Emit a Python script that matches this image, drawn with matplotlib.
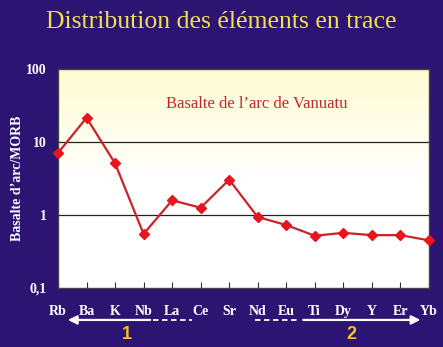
import numpy as np
import matplotlib
matplotlib.use("Agg")
import matplotlib.pyplot as plt
import matplotlib.transforms as mtransforms
from matplotlib.colors import LinearSegmentedColormap

elements = ["Rb", "Ba", "K", "Nb", "La", "Ce", "Sr", "Nd", "Eu", "Ti", "Dy", "Y", "Er", "Yb"]
values = [7.1, 21.5, 5.1, 0.55, 1.59, 1.26, 3.05, 0.94, 0.73, 0.52, 0.57, 0.53, 0.53, 0.45]
ytick_vals = [0.1, 1, 10, 100]
ytick_labels = ["0,1", "1", "10", "100"]

BG = "#2b1472"
SERIF = ["Liberation Serif", "DejaVu Serif"]

fig = plt.figure(figsize=(4.43, 3.47), dpi=100, facecolor=BG)
ax = fig.add_axes([0.131, 0.170, 0.837, 0.631])
x = np.arange(len(elements))

# gradient background
grad = np.linspace(0, 1, 256).reshape(-1, 1)
cmap = LinearSegmentedColormap.from_list("g", ["#ffffff", "#ffffff", "#fffbd2"])
ax.imshow(grad, aspect="auto", cmap=cmap, origin="lower", extent=[0, 1, 0, 1],
          transform=ax.transAxes, zorder=0)

ax.set_yscale("log")
ax.set_ylim(0.1, 100)
ax.set_xlim(0, len(elements) - 1)
for g in [1, 10]:
    ax.axhline(g, color="#222222", lw=0.9, zorder=1)

ax.plot(x, values, color="#c8232a", lw=1.6, marker="D", ms=5,
        mfc="#e8141e", mec="#e8141e", zorder=3, clip_on=False)

ax.set_yticks(ytick_vals)
ax.set_yticklabels(ytick_labels)
ax.yaxis.set_minor_locator(matplotlib.ticker.NullLocator())
ax.tick_params(axis="y", length=0, pad=8, colors="white", labelsize=10)
ax.set_xticks(x)
ax.set_xticklabels(elements)
ax.tick_params(axis="x", direction="in", length=4, pad=12, color="#333333",
               labelcolor="white", labelsize=10)
for lab in ax.get_xticklabels() + ax.get_yticklabels():
    lab.set_family(SERIF)
    lab.set_fontweight("bold")
for s in ax.spines.values():
    s.set_color("#444444")
    s.set_linewidth(1.0)

ax.set_ylabel("Basalte d\u2019arc/MORB", color="white", fontsize=10, family=SERIF,
              fontweight="bold", labelpad=2)

ax.text(0.537, 0.84, "Basalte de l\u2019arc de Vanuatu", transform=ax.transAxes,
        color="#c0282a", fontsize=12, family=SERIF, ha="center", va="center")

fig.text(0.5, 0.936, "Distribution des \u00e9l\u00e9ments en trace", color="#f0e050",
         fontsize=18.5, family=SERIF, ha="center", va="center")

# arrows below axis
tr = mtransforms.blended_transform_factory(ax.transData, fig.transFigure)
ya = 0.078
ax.annotate("", xy=(0.25, ya), xytext=(3.33, ya), xycoords=tr, textcoords=tr,
            arrowprops=dict(arrowstyle="-|>", color="white", lw=1.6, mutation_scale=13),
            annotation_clip=False)
ax.plot([3.33, 4.7], [ya, ya], transform=tr, color="white", lw=1.3, ls=(0, (3, 2)), clip_on=False)
ax.annotate("", xy=(12.8, ya), xytext=(8.5, ya), xycoords=tr, textcoords=tr,
            arrowprops=dict(arrowstyle="-|>", color="white", lw=1.6, mutation_scale=13),
            annotation_clip=False)
ax.plot([6.9, 8.5], [ya, ya], transform=tr, color="white", lw=1.3, ls=(0, (3, 2)), clip_on=False)
ax.text(2.4, 0.037, "1", transform=tr, color="#f5c21b", fontsize=13, fontweight="bold",
        family=["Liberation Sans", "DejaVu Sans"], ha="center", va="center")
ax.text(10.3, 0.037, "2", transform=tr, color="#f5c21b", fontsize=13, fontweight="bold",
        family=["Liberation Sans", "DejaVu Sans"], ha="center", va="center")

fig.savefig("out.png", dpi=100, facecolor=BG)
